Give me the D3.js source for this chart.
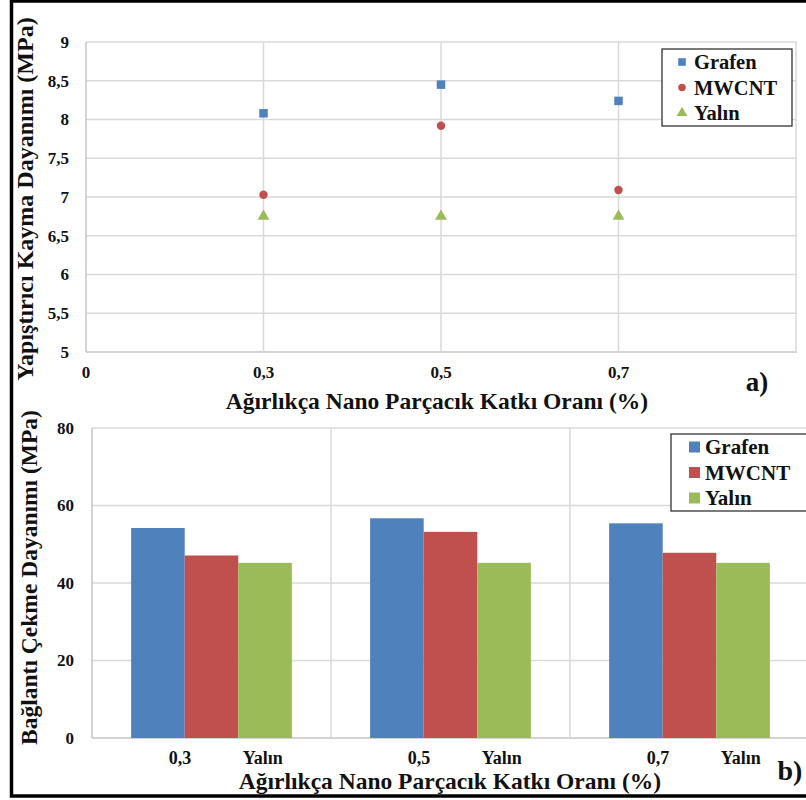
<!DOCTYPE html>
<html>
<head>
<meta charset="utf-8">
<script src="https://cdn.jsdelivr.net/npm/d3@7"></script>
<style>
  html, body { margin: 0; padding: 0; background: #fff; }
  svg { display: block; }
  text { font-family: "Liberation Serif", "DejaVu Serif", serif; font-weight: bold; fill: #111; }
</style>
</head>
<body>
<svg id="chart" width="806" height="800" font-family="Liberation Serif, serif"></svg>
<script>
// ---- data ----
const seriesNames = ["Grafen", "MWCNT", "Yalın"];
const seriesColors = ["#4f81bd", "#c0504d", "#9bbb59"];

// (a) adhesive shear strength, MPa
const shearCategories = ["0", "0,3", "0,5", "0,7", ""];
const shearPointCats = ["0,3", "0,5", "0,7"];
const grafenShear = [8.08, 8.45, 8.24];
const mwcntShear = [7.03, 7.92, 7.09];
const yalinShear = [6.75, 6.75, 6.75];
const shearTicks = [5, 5.5, 6, 6.5, 7, 7.5, 8, 8.5, 9];

// (b) joint tensile strength, MPa
const pullGroups = ["0,3", "0,5", "0,7"];
const grafenPull = [54.2, 56.7, 55.4];
const mwcntPull = [47.1, 53.2, 47.8];
const yalinPull = [45.2, 45.2, 45.2];
const pullTicks = [0, 20, 40, 60, 80];

const svg = d3.select("#chart");
const gridColor = "#d9d9d9";
const axisColor = "#c4c4c4";
const fmt = d3.formatLocale({ decimal: ",", thousands: ".", grouping: [3], currency: ["", ""] }).format("~g");

// outer frame
svg.append("rect")
  .attr("x", 11.5).attr("y", 1).attr("width", 830).attr("height", 795)
  .attr("fill", "none").attr("stroke", "#000").attr("stroke-width", 3.5);

// ================= (a) scatter =================
const A = { left: 86, right: 796, top: 42, bottom: 352 };
const xA = d3.scalePoint().domain(shearCategories).range([A.left, A.right]);
const yA = d3.scaleLinear().domain([5, 9]).range([A.bottom, A.top]);
const gA = svg.append("g");

// horizontal grid
gA.selectAll("line.hg").data(shearTicks).join("line")
  .attr("x1", A.left).attr("x2", A.right + 1)
  .attr("y1", d => yA(d)).attr("y2", d => yA(d))
  .attr("stroke", d => d === 5 ? axisColor : gridColor).attr("stroke-width", 1.5);
// vertical grid
gA.selectAll("line.vg").data(shearCategories).join("line")
  .attr("x1", d => xA(d)).attr("x2", d => xA(d))
  .attr("y1", A.top).attr("y2", A.bottom)
  .attr("stroke", (d, i) => i === 0 ? axisColor : gridColor).attr("stroke-width", 1.5);

// y tick labels
gA.selectAll("text.yt").data(shearTicks).join("text")
  .attr("x", 69).attr("y", d => yA(d)).attr("dy", "0.35em")
  .attr("text-anchor", "end").attr("font-size", 17)
  .text(d => fmt(d));
// x tick labels
gA.selectAll("text.xt").data(shearCategories.filter(d => d !== "")).join("text")
  .attr("x", d => xA(d)).attr("y", 378)
  .attr("text-anchor", "middle").attr("font-size", 17)
  .text(d => d);

// markers
const shearSeries = [grafenShear, mwcntShear, yalinShear];
const symbolTypes = [d3.symbolSquare, d3.symbolCircle, d3.symbolTriangle];
const symbolSizes = [72, 56, 62];
shearSeries.forEach((vals, s) => {
  gA.selectAll(null).data(vals).join("path")
    .attr("d", d3.symbol(symbolTypes[s], symbolSizes[s]))
    .attr("transform", (d, i) => `translate(${xA(shearPointCats[i])},${yA(d)})`)
    .attr("fill", seriesColors[s]);
});

// titles
gA.append("text")
  .attr("transform", `translate(33,${(8 + 390) / 2}) rotate(-90)`)
  .attr("text-anchor", "middle").attr("font-size", 24)
  .text("Yapıştırıcı Kayma Dayanımı (MPa)");
gA.append("text")
  .attr("x", 437).attr("y", 409).attr("text-anchor", "middle").attr("font-size", 23.5)
  .text("Ağırlıkça Nano Parçacık Katkı Oranı (%)");
gA.append("text")
  .attr("x", 757).attr("y", 391).attr("text-anchor", "middle").attr("font-size", 27)
  .text("a)");

// legend (a)
const legA = gA.append("g");
legA.append("rect").attr("x", 662).attr("y", 49).attr("width", 130).attr("height", 77)
  .attr("fill", "#fff").attr("stroke", "#222").attr("stroke-width", 1.2);
seriesNames.forEach((name, s) => {
  const cy = 62 + s * 25.5;
  legA.append("path").attr("d", d3.symbol(symbolTypes[s], symbolSizes[s] * 0.8))
    .attr("transform", `translate(682,${cy})`).attr("fill", seriesColors[s]);
  legA.append("text").attr("x", 694).attr("y", cy).attr("dy", "0.35em")
    .attr("font-size", 20.5).text(name);
});

// ================= (b) grouped bars =================
const B = { left: 92, right: 809, top: 428, bottom: 738 };
const xB = d3.scaleBand().domain(pullGroups).range([B.left, B.right]).paddingInner(0).paddingOuter(0);
const xSub = d3.scaleBand().domain(seriesNames).range([0, xB.bandwidth()]).paddingInner(0).paddingOuter(0.73);
const yB = d3.scaleLinear().domain([0, 80]).range([B.bottom, B.top]);
const gB = svg.append("g");

gB.selectAll("line.hg").data(pullTicks).join("line")
  .attr("x1", B.left).attr("x2", 806)
  .attr("y1", d => yB(d)).attr("y2", d => yB(d))
  .attr("stroke", d => d === 0 ? axisColor : gridColor).attr("stroke-width", 1.5);
gB.selectAll("line.vg").data(pullGroups).join("line")
  .attr("x1", d => xB(d)).attr("x2", d => xB(d))
  .attr("y1", B.top).attr("y2", B.bottom)
  .attr("stroke", (d, i) => i === 0 ? axisColor : gridColor).attr("stroke-width", 1.5);

const pullSeries = [grafenPull, mwcntPull, yalinPull];
pullSeries.forEach((vals, s) => {
  gB.selectAll(null).data(vals).join("rect")
    .attr("x", (d, i) => xB(pullGroups[i]) + xSub(seriesNames[s]))
    .attr("y", d => yB(d))
    .attr("width", xSub.bandwidth())
    .attr("height", d => yB(0) - yB(d))
    .attr("fill", seriesColors[s]);
});

gB.selectAll("text.yt").data(pullTicks).join("text")
  .attr("x", 74).attr("y", d => yB(d)).attr("dy", "0.35em")
  .attr("text-anchor", "end").attr("font-size", 17)
  .text(d => fmt(d));

// category labels under each group
pullGroups.forEach(g => {
  gB.append("text").attr("x", xB(g) + xB.bandwidth() * 0.368).attr("y", 764)
    .attr("text-anchor", "middle").attr("font-size", 18).text(g);
  gB.append("text").attr("x", xB(g) + xB.bandwidth() * 0.715).attr("y", 764)
    .attr("text-anchor", "middle").attr("font-size", 18).text("Yalın");
});

gB.append("text")
  .attr("transform", `translate(37,${(407 + 748) / 2}) rotate(-90)`)
  .attr("text-anchor", "middle").attr("font-size", 23.5)
  .text("Bağlantı Çekme Dayanımı (MPa)");
gB.append("text")
  .attr("x", 450).attr("y", 789).attr("text-anchor", "middle").attr("font-size", 23.5)
  .text("Ağırlıkça Nano Parçacık Katkı Oranı (%)");
gB.append("text")
  .attr("x", 790).attr("y", 780).attr("text-anchor", "middle").attr("font-size", 28)
  .text("b)");

// legend (b)
const legB = gB.append("g");
legB.append("rect").attr("x", 671).attr("y", 434).attr("width", 160).attr("height", 77)
  .attr("fill", "#fff").attr("stroke", "#222").attr("stroke-width", 1.2);
seriesNames.forEach((name, s) => {
  const cy = 447 + s * 25.5;
  legB.append("rect").attr("x", 689).attr("y", cy - 5.5).attr("width", 11).attr("height", 11)
    .attr("fill", seriesColors[s]);
  legB.append("text").attr("x", 705).attr("y", cy).attr("dy", "0.35em")
    .attr("font-size", 21).text(name);
});
</script>
</body>
</html>
